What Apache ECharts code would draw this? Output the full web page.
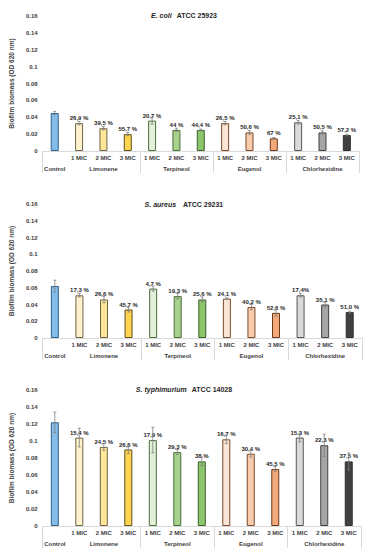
<!DOCTYPE html>
<html><head><meta charset="utf-8">
<script src="https://cdn.jsdelivr.net/npm/echarts@6/dist/echarts.min.js"></script>
<style>html,body{margin:0;padding:0;background:#fff}#c{width:368px;height:550px}</style>
</head><body><div id="c"></div>
<script>
// ---- data ----
const micLabels = ["", "1 MIC", "2 MIC", "3 MIC", "1 MIC", "2 MIC", "3 MIC", "1 MIC", "2 MIC", "3 MIC", "1 MIC", "2 MIC", "3 MIC"];
const groupLabels = ["Control", "", "Limonene", "", "", "Terpineol", "", "", "Eugenol", "", "", "Chlorhexidine", ""];
const yTickValues = [0, 0.02, 0.04, 0.06, 0.08, 0.1, 0.12, 0.14, 0.16];

const ecoliValues = [0.045, 0.033, 0.027, 0.020, 0.036, 0.025, 0.025, 0.033, 0.022, 0.015, 0.034, 0.022, 0.019];
const ecoliErrors = [0.002, 0.002, 0.002, 0.002, 0.004, 0.002, 0.001, 0.002, 0.002, 0.001, 0.002, 0.002, 0.001];
const ecoliPct = ["", "26,9 %", "39,5 %", "55,7 %", "20,7 %", "44 %", "44,4 %", "26,5 %", "50,6 %", "67 %", "25,1 %", "50,5 %", "57,2 %"];

const aureusValues = [0.062, 0.051, 0.046, 0.034, 0.059, 0.050, 0.046, 0.047, 0.037, 0.030, 0.051, 0.040, 0.031];
const aureusErrors = [0.007, 0.002, 0.004, 0.003, 0.003, 0.003, 0.003, 0.001, 0.003, 0.004, 0.002, 0.003, 0.001];
const aureusPct = ["", "17,3 %", "26,6 %", "45,7 %", "4,7 %", "19,3 %", "25,6 %", "24,1 %", "40,2 %", "52,6 %", "17,4%", "35,1 %", "51,0 %"];

const typhiValues = [0.122, 0.104, 0.093, 0.090, 0.101, 0.087, 0.076, 0.102, 0.085, 0.067, 0.104, 0.095, 0.076];
const typhiErrors = [0.012, 0.011, 0.004, 0.005, 0.015, 0.003, 0.005, 0.005, 0.004, 0.003, 0.005, 0.013, 0.010];
const typhiPct = ["", "15,4 %", "24,5 %", "26,5 %", "17,9 %", "29,3 %", "38 %", "16,7 %", "30,4 %", "45,5 %", "15,3 %", "22,3 %", "37,5 %"];

const panels = [
  {species: "E. coli", strain: "ATCC 25923", values: ecoliValues, errors: ecoliErrors, pct: ecoliPct},
  {species: "S. aureus", strain: " ATCC 29231", values: aureusValues, errors: aureusErrors, pct: aureusPct},
  {species: "S. typhimurium", strain: "ATCC 14028", values: typhiValues, errors: typhiErrors, pct: typhiPct}
];

// ---- styles ----
const fills = ['#85bde8', '#fff2cc', '#ffe699', '#ffd54f', '#e2f0d9', '#a9d18e', '#8cc66a', '#fbe5d6', '#f8cbad', '#f4a97a', '#d9d9d9', '#a6a6a6', '#404040'];
const borders = ['#2e5f8a', '#6e6446', '#6e6446', '#5e4e20', '#4a6e3a', '#4a6e3a', '#3f5f30', '#7a4a2a', '#7a4a2a', '#6a3a1a', '#555555', '#404040', '#303030'];
const layout = [
  {left: 30, top: 16, width: 329, height: 135, titleTop: 1},
  {left: 26, top: 204, width: 336, height: 134, titleTop: 190},
  {left: 27, top: 390, width: 334, height: 136, titleTop: 375}
];
const FONT = '"Liberation Sans", Arial, sans-serif';
const groupTickIdx = [0, 4, 7, 10];

const option = {
  backgroundColor: '#fff',
  animation: false,
  title: [], grid: [], xAxis: [], yAxis: [], series: []
};

panels.forEach((p, k) => {
  const L = layout[k];
  option.title.push({
    text: '{i|' + p.species + '} {b|' + p.strain + '}',
    left: 'center', top: L.titleTop,
    textStyle: {
      fontFamily: FONT,
      rich: {
        i: {fontStyle: 'italic', fontWeight: 'bold', fontSize: 7, color: '#262626', fontFamily: FONT},
        b: {fontWeight: 'bold', fontSize: 7, color: '#262626', fontFamily: FONT}
      }
    }
  });
  option.grid.push({left: L.left, top: L.top, width: L.width, height: L.height, containLabel: false});
  option.xAxis.push({
    type: 'category', gridIndex: k, data: micLabels,
    axisLine: {show: true, lineStyle: {color: '#d9d9d9', width: 1}},
    axisTick: {show: true, length: 22, interval: (i) => groupTickIdx.includes(i), lineStyle: {color: '#d9d9d9'}},
    axisLabel: {interval: 0, margin: 4, fontSize: 6, fontWeight: 'bold', color: '#404040', fontFamily: FONT}
  });
  option.xAxis.push({
    type: 'category', gridIndex: k, data: groupLabels, position: 'bottom', offset: 11,
    axisLine: {show: false}, axisTick: {show: false},
    axisLabel: {interval: 0, margin: 4, fontSize: 6, fontWeight: 'bold', color: '#404040', fontFamily: FONT}
  });
  option.yAxis.push({
    type: 'value', gridIndex: k, min: yTickValues[0], max: yTickValues[yTickValues.length - 1], interval: 0.02,
    name: 'Biofilm biomass (OD 620 nm)', nameLocation: 'middle', nameGap: 17,
    nameTextStyle: {fontSize: 6.5, fontWeight: 'bold', color: '#404040', fontFamily: FONT},
    axisLine: {show: false}, axisTick: {show: false}, splitLine: {show: false},
    axisLabel: {margin: 5, fontSize: 6, fontWeight: 'bold', color: '#404040', fontFamily: FONT,
      formatter: (v) => String(Math.round(v * 100) / 100)}
  });
  option.series.push({
    type: 'bar', xAxisIndex: 2 * k, yAxisIndex: k, barWidth: 8,
    data: p.values.map((v, i) => ({value: v, itemStyle: {color: fills[i], borderColor: borders[i], borderWidth: 1}})),
    label: {show: true, position: 'top', distance: 2, fontSize: 6, fontWeight: 'bold', color: '#262626', fontFamily: FONT,
      formatter: (q) => p.pct[q.dataIndex]}
  });
  option.series.push({
    type: 'custom', xAxisIndex: 2 * k, yAxisIndex: k, z: 5,
    data: p.values.map((v, i) => [i, v - p.errors[i], v + p.errors[i]]),
    renderItem: (params, api) => {
      const top = api.coord([api.value(0), api.value(2)]);
      const bot = api.coord([api.value(0), api.value(1)]);
      const w = 1.5;
      const st = {stroke: '#808080', lineWidth: 0.8};
      return {type: 'group', children: [
        {type: 'line', shape: {x1: top[0], y1: top[1], x2: bot[0], y2: bot[1]}, style: st},
        {type: 'line', shape: {x1: top[0] - w, y1: top[1], x2: top[0] + w, y2: top[1]}, style: st},
        {type: 'line', shape: {x1: bot[0] - w, y1: bot[1], x2: bot[0] + w, y2: bot[1]}, style: st}
      ]};
    }
  });
});

const chart = echarts.init(document.getElementById('c'), null, {renderer: 'svg', width: 368, height: 550});
chart.setOption(option);
</script></body></html>
